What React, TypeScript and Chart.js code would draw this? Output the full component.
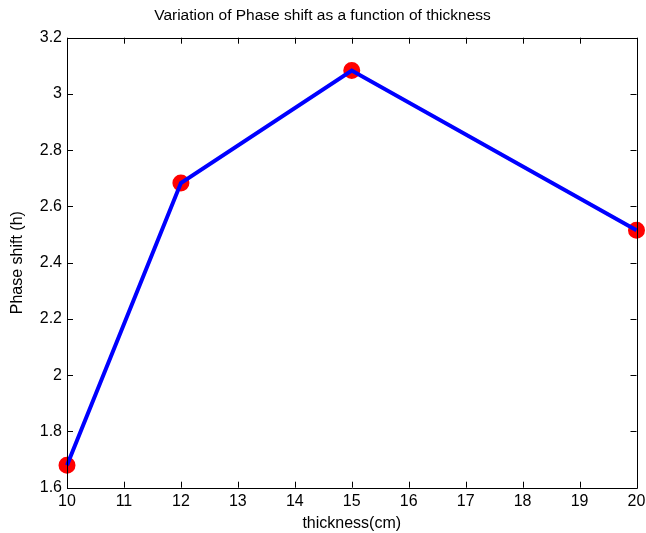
import React, { useEffect, useRef } from "react";
import { Chart, registerables } from "chart.js";

Chart.register(...registerables);

const thickness = [10, 12, 15, 20];
const phaseShift = [1.68, 2.683, 3.083, 2.515];
const xTickRange = { min: 10, max: 20, step: 1 };
const yTickRange = { min: 1.6, max: 3.2, step: 0.2 };
const chartTitle = "Variation of Phase shift as a function of thickness";
const xTitle = "thickness(cm)";
const yTitle = "Phase shift (h)";

const FONT = 'Arial, "Liberation Sans", sans-serif';

const boxPlugin = {
  id: "matlabBox",
  afterDatasetsDraw(chart: any) {
    const { ctx, chartArea } = chart;
    const { left, right, top, bottom } = chartArea;
    const xs = chart.scales.x;
    const ys = chart.scales.y;
    ctx.save();
    ctx.strokeStyle = "#000";
    ctx.lineWidth = 1;
    ctx.beginPath();
    ctx.rect(Math.round(left) + 0.5, Math.round(top) + 0.5, Math.round(right - left), Math.round(bottom - top));
    ctx.stroke();
    const tl = 6;
    ctx.beginPath();
    xs.ticks.forEach((t: any) => {
      const px = Math.round(xs.getPixelForValue(t.value)) + 0.5;
      ctx.moveTo(px, bottom);
      ctx.lineTo(px, bottom - tl);
      ctx.moveTo(px, top);
      ctx.lineTo(px, top + tl);
    });
    ys.ticks.forEach((t: any) => {
      const py = Math.round(ys.getPixelForValue(t.value)) + 0.5;
      ctx.moveTo(left, py);
      ctx.lineTo(left + tl, py);
      ctx.moveTo(right, py);
      ctx.lineTo(right - tl, py);
    });
    ctx.stroke();
    ctx.restore();
  },
};

export default function App() {
  const ref = useRef<HTMLCanvasElement>(null);
  useEffect(() => {
    document.body.style.margin = "0";
    const pts = thickness.map((x, i) => ({ x, y: phaseShift[i] }));
    const chart = new Chart(ref.current!, {
      type: "line",
      data: {
        datasets: [
          {
            data: pts,
            borderColor: "#0000ff",
            borderWidth: 4,
            pointRadius: 0,
            fill: false,
            tension: 0,
            clip: false,
            order: 1,
          },
          {
            data: pts,
            showLine: false,
            pointRadius: 7.5,
            pointBorderWidth: 2,
            pointBackgroundColor: "#ff0000",
            pointBorderColor: "#ff0000",
            clip: false,
            order: 2,
          },
        ],
      },
      options: {
        animation: false,
        responsive: false,
        maintainAspectRatio: false,
        layout: { padding: { left: 8, right: 9, top: 0, bottom: 0 } },
        plugins: {
          legend: { display: false },
          tooltip: { enabled: false },
          title: {
            display: true,
            text: chartTitle,
            color: "#000",
            font: { family: FONT, size: 15.5, weight: "normal" },
            padding: { top: 6.5, bottom: 12.6 },
          },
        },
        scales: {
          x: {
            type: "linear",
            min: xTickRange.min,
            max: xTickRange.max,
            afterFit: (s: any) => {
              s.height = 45.3;
              s.paddingRight = 0;
              s.paddingLeft = 0;
            },
            ticks: {
              stepSize: xTickRange.step,
              color: "#000",
              font: { family: FONT, size: 16 },
              padding: 4,
              maxRotation: 0,
            },
            grid: { display: false, drawTicks: false },
            border: { display: false },
            title: {
              display: true,
              text: xTitle,
              color: "#000",
              font: { family: FONT, size: 16 },
              padding: { top: 0, bottom: 0 },
            },
          },
          y: {
            type: "linear",
            min: yTickRange.min,
            max: yTickRange.max,
            afterFit: (s: any) => {
              s.width = 59;
            },
            ticks: {
              stepSize: yTickRange.step,
              color: "#000",
              font: { family: FONT, size: 16 },
              padding: 5,
              callback: (v: any) => String(parseFloat(Number(v).toFixed(2))),
            },
            grid: { display: false, drawTicks: false },
            border: { display: false },
            title: {
              display: true,
              text: yTitle,
              color: "#000",
              font: { family: FONT, size: 16 },
              padding: { top: 0, bottom: 0 },
            },
          },
        },
      },
      plugins: [boxPlugin],
    });
    return () => chart.destroy();
  }, []);
  return <canvas ref={ref} width={646} height={533} style={{ display: "block" }} />;
}
